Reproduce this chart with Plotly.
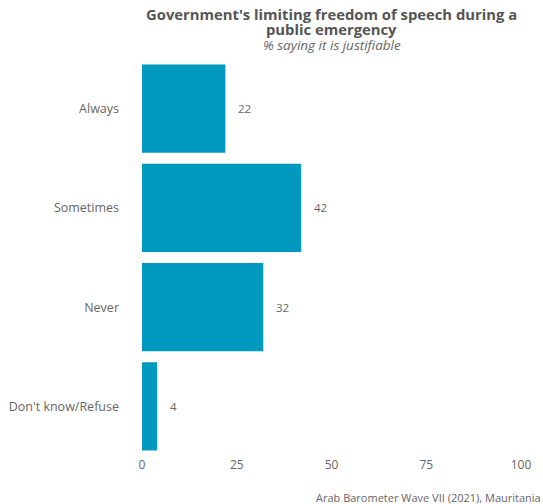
import plotly.graph_objects as go

categories = ["Always", "Sometimes", "Never", "Don't know/Refuse"]
values = [22, 42, 32, 4]
tick_vals = [0, 25, 50, 75, 100]
title_lines = ["Government's limiting freedom of speech during a", "public emergency"]
subtitle_text = "% saying it is justifiable"
caption_text = "Arab Barometer Wave VII (2021), Mauritania"

FONT = "Open Sans"
fig = go.Figure()
fig.add_trace(go.Bar(
    x=values, y=categories, orientation="h",
    marker=dict(color="#0099C0", line=dict(width=0)),
    width=0.89,
    hoverinfo="skip",
))
for c, v in zip(categories, values):
    fig.add_annotation(x=v, y=c, text=str(v), showarrow=False,
                       xanchor="left", xshift=11,
                       font=dict(family=FONT, size=11.5, color="#666666"))

for line, shift in zip(title_lines, [45, 30]):
    fig.add_annotation(xref="paper", yref="paper", x=0.5, y=1, yanchor="middle",
                       xanchor="center", yshift=shift, text="<b>" + line + "</b>",
                       showarrow=False,
                       font=dict(family=FONT, size=14.8, color="#555555"))
fig.add_annotation(xref="paper", yref="paper", x=0.5, y=1, yanchor="middle",
                   xanchor="center", yshift=14, text="<i>" + subtitle_text + "</i>",
                   showarrow=False,
                   font=dict(family=FONT, size=13.5, color="#666666"))
fig.add_annotation(xref="paper", yref="paper", x=1, y=0, yanchor="top",
                   xanchor="right", xshift=22, yshift=-32, text=caption_text,
                   showarrow=False,
                   font=dict(family=FONT, size=11, color="#666666"))

fig.update_layout(
    width=543, height=504,
    margin=dict(l=142, r=22, t=59, b=48, autoexpand=False),
    plot_bgcolor="white", paper_bgcolor="white",
    showlegend=False,
    font=dict(family=FONT, color="#666666"),
    xaxis=dict(range=[0, 100], tickvals=tick_vals, showgrid=False,
               zeroline=False, showline=False, ticks="", automargin=False,
               tickfont=dict(size=12, color="#666666"), fixedrange=True),
    yaxis=dict(categoryorder="array", categoryarray=categories[::-1],
               showgrid=False, zeroline=False, showline=False, ticks="",
               ticklabelstandoff=22, automargin=False,
               tickfont=dict(size=12.5, color="#666666"), fixedrange=True),
)
fig.write_html("out.html", config={"displayModeBar": False},
               post_script="document.body.style.margin='0';")
